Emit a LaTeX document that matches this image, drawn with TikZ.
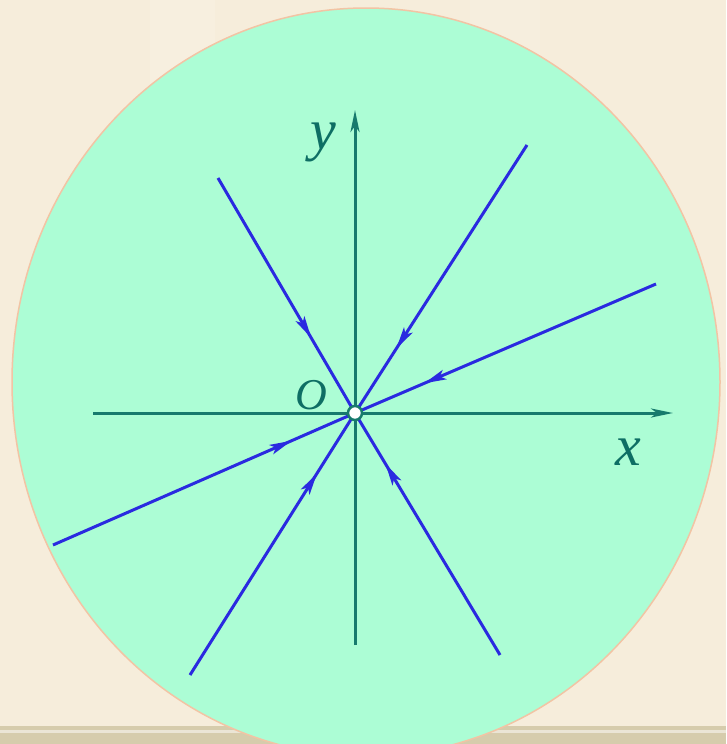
\documentclass[tikz,border=0pt]{standalone}
\usepackage{fontspec}
\setmainfont{Liberation Serif}
\usetikzlibrary{arrows.meta,decorations.markings}
\definecolor{bgbeige}{HTML}{F6EDDB}
\definecolor{disk}{HTML}{ACFDD5}
\definecolor{rim}{HTML}{F2C4A4}
\definecolor{axiscol}{HTML}{177A6D}
\definecolor{lblcol}{HTML}{0E6E64}
\definecolor{raycol}{HTML}{2A2AE0}
\definecolor{bandcol}{HTML}{D6CCAC}
\begin{document}
\begin{tikzpicture}[x=1pt,y=-1pt,
  axisline/.style={axiscol,line width=3pt,-{Stealth[length=22pt,width=9pt,inset=6pt]}},
  rayline/.style={raycol,line width=3pt},
  toO/.style={rayline,postaction=decorate,
    decoration={markings,mark=at position #1 with {\arrow{Stealth[length=22pt,width=10pt,inset=5pt]}}}},
  lbl/.style={text=lblcol,inner sep=0pt,font=\fontsize{58}{58}\selectfont\itshape},
  orig/.style={circle,draw=axiscol,fill=white,line width=2.5pt,inner sep=0pt,minimum size=14pt}]
\useasboundingbox (0,0) rectangle (726,744);
% background
\fill[bgbeige] (0,0) rectangle (726,744);
\fill[white,opacity=0.12] (150,0) rectangle (215,130);
\fill[white,opacity=0.1] (470,0) rectangle (540,60);
\fill[bandcol] (0,726) rectangle (726,744);
\fill[bandcol!50!white] (0,730) rectangle (726,733);
% disk
\filldraw[fill=disk,draw=rim,line width=1.5pt] (366,382) ellipse [x radius=354, y radius=374];
% coordinates
\coordinate (o) at (355,413);
\coordinate (xs) at (93,413);
\coordinate (xe) at (673,413);
\coordinate (ys) at (355,645);
\coordinate (ye) at (355,110);
\coordinate (a1) at (218,178);
\coordinate (a2) at (500,655);
\coordinate (b1) at (527,145);
\coordinate (b2) at (190,675);
\coordinate (c1) at (656,284);
\coordinate (c2) at (53,545);
% axes
\draw[axisline] (xs) -- (xe);
\draw[axisline] (ys) -- (ye);
% rays towards origin
\draw[toO=0.68] (a1) -- (o);
\draw[toO=0.79] (a2) -- (o);
\draw[toO=0.76] (b1) -- (o);
\draw[toO=0.77] (b2) -- (o);
\draw[toO=0.77] (c1) -- (o);
\draw[toO=0.79] (c2) -- (o);
% origin
\node[orig] (O) at (o) {};
% labels
\node[lbl] (ly) at (323,142) {y};
\node[lbl] (lx) at (628,452) {x};
\node[lbl,font=\fontsize{44}{44}\selectfont\itshape] (lo) at (311,395) {O};
\end{tikzpicture}
\end{document}
